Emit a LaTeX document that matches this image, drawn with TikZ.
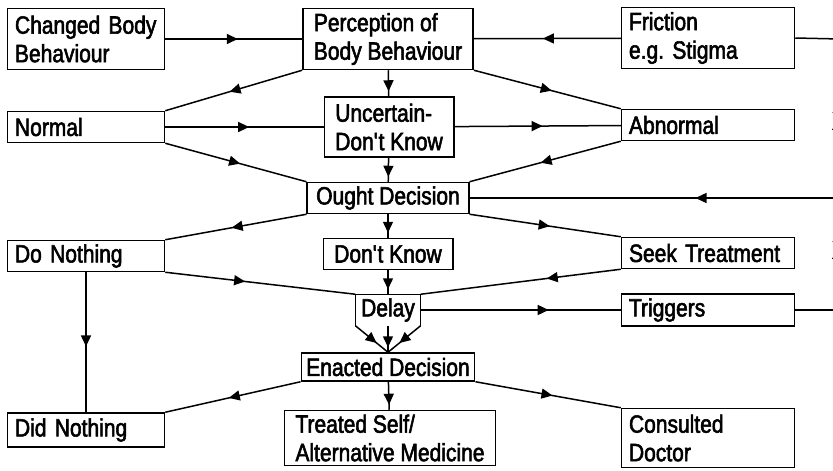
\documentclass[tikz,border=0pt]{standalone}
\usepackage{fontspec}
\setmainfont{Liberation Sans}[FakeStretch=0.84, FakeBold=2.2]
\usetikzlibrary{arrows.meta,decorations.markings,positioning}

\tikzset{
  box/.style={draw, line width=1.5pt, inner xsep=11pt, inner ysep=1pt, align=left,
    minimum height=31pt, font=\fontsize{25}{28.5}\selectfont},
  leftbox/.style={box, inner xsep=7.5pt, text width=142pt},
  rightbox/.style={box, inner xsep=7.5pt, text width=158pt},
  link/.style={line width=1.5pt},
  midarrow/.style={link, postaction={decorate, decoration={markings,
    mark=at position #1 with {\arrow{Triangle[length=11pt,width=10pt]}}}}},
  midarrow/.default=0.53,
  endarrow/.style={link, postaction={decorate, decoration={markings,
    mark=at position -5pt with {\arrow{Triangle[length=11pt,width=10pt]}}}}},
}

\begin{document}
\begin{tikzpicture}[x=1pt, y=-1pt]
  \useasboundingbox (0,0) rectangle (833,471);
  \clip (0,0) rectangle (833,471);

  % top row
  \node[leftbox, minimum height=61pt] (changed) at (86,39) {Changed Body\\Behaviour};
  \node[box, minimum height=61pt] (percept) at (388,39) {Perception of\\Body Behaviour};
  \node[rightbox, minimum height=61pt] (friction) at (708,38) {Friction\\e.g.\ Stigma};

  % judgement
  \node[leftbox] (normal) at (86,127) {Normal};
  \node[box, minimum height=60pt] (unsure) at (389,127) {Uncertain-\\Don\textquotesingle t Know};
  \node[rightbox] (abnormal) at (708,125) {Abnormal};

  \node[box, align=center, inner xsep=9pt] (ought) at (388,198) {Ought Decision};

  \node[leftbox] (donothing) at (86,256) {Do Nothing};
  \node[box, align=center] (dontknow) at (388,254) {Don\textquotesingle t Know};
  \node[rightbox] (seek) at (708,253) {Seek Treatment};

  \node[box, draw=none, inner xsep=5pt, minimum width=63pt, minimum height=30pt] (delay) at (388,310) {Delay};
  \node[rightbox, minimum height=32pt] (triggers) at (708,310) {Triggers};

  \node[box, align=center, inner xsep=5pt, minimum height=28pt] (enacted) at (388,367) {Enacted Decision};

  % outcomes
  \node[leftbox, minimum height=34pt] (didnothing) at (86,430) {Did Nothing};
  \node[box, minimum height=55pt] (treated) at (390,438) {Treated Self/\\Alternative Medicine};
  \node[rightbox, minimum height=59pt] (consulted) at (708,438) {Consulted\\Doctor};

  % cut-off marks at the right edge
  \node[font=\fontsize{25}{28.5}\selectfont] (cutA) at (839,121) {X};
  \node[font=\fontsize{25}{28.5}\selectfont] (cutB) at (839,250) {X};

  % loose ends off the right edge
  \coordinate (fricout) at (840,39);
  \coordinate (oughtin) at (840,198);
  \coordinate (trigout) at (840,310);

  % connectors
  \draw[midarrow] (changed) -- (percept);
  \draw[midarrow] (friction) -- (percept);
  \draw[link] (friction.east) -- (fricout);

  \draw[midarrow] (percept.south west) -- (normal.north east);
  \draw[midarrow] (percept.south east) -- (abnormal.north west);
  \draw[endarrow] (percept) -- (unsure);

  \draw[midarrow] (normal) -- (unsure);
  \draw[midarrow] (unsure) -- (abnormal);

  \draw[midarrow] (normal.south east) -- (ought.north west);
  \draw[midarrow] (abnormal.south west) -- (ought.north east);
  \draw[endarrow] (unsure) -- (ought);
  \draw[midarrow=0.39] (oughtin) -- (ought.east);

  \draw[midarrow] (ought.south west) -- (donothing.north east);
  \draw[midarrow] (ought.south east) -- (seek.north west);
  \draw[endarrow] (ought) -- (dontknow);

  \draw[midarrow=0.42] (donothing.south east) -- (delay.north west);
  \draw[midarrow=0.37] (seek.south west) -- (delay.north east);
  \draw[endarrow] (dontknow) -- (delay.north);
  \draw[midarrow=0.64] (delay.east) -- (triggers.west);
  \draw[link] (triggers.east) -- (trigout);

  \draw[midarrow] (donothing.south) -- (didnothing.north);

  % delay funnel
  \draw[link] (delay.south west) -- (delay.north west) -- (delay.north east) -- (delay.south east);
  \draw[midarrow=0.65] (delay.south west) -- (enacted.north);
  \draw[endarrow] (delay.south) -- (enacted.north);
  \draw[midarrow=0.65] (delay.south east) -- (enacted.north);

  \draw[midarrow] (enacted.south west) -- (didnothing.north east);
  \draw[midarrow] (enacted.south east) -- (consulted.north west);
  \draw[endarrow] (enacted) -- (treated);
\end{tikzpicture}
\end{document}
